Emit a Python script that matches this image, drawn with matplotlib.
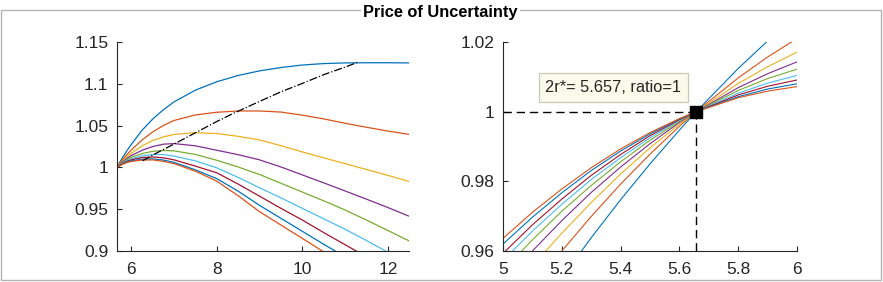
import matplotlib
matplotlib.use('Agg')
from matplotlib import pyplot as plt
from matplotlib.patches import Rectangle
from matplotlib.ticker import FuncFormatter

plt.rcParams['font.family'] = ['Liberation Sans', 'DejaVu Sans']

# sample positions (2r) shared by all curves
r2 = [5.0, 5.1, 5.2, 5.3, 5.4, 5.5, 5.6, 5.657, 5.8, 5.9, 6.0, 6.25, 6.5, 6.75,
      7.0, 7.5, 8.0, 8.5, 9.0, 9.5, 10.0, 10.5, 11.0, 11.5, 12.0, 12.5]

ratio_1 = [0.9274, 0.9401, 0.9522, 0.9638, 0.9747, 0.9850, 0.9947, 1.0, 1.0124, 1.0203, 1.0276, 1.0445, 1.058,
           1.069, 1.0785, 1.0925, 1.1025, 1.110, 1.1155, 1.1195, 1.1225, 1.1242, 1.125, 1.1252, 1.1252, 1.125]
ratio_2 = [0.9376, 0.9494, 0.96, 0.9699, 0.9792, 0.9878, 0.9958, 1.0, 1.0097, 1.0157, 1.021, 1.0328, 1.0425,
           1.0502, 1.0562, 1.0628, 1.066, 1.0675, 1.0675, 1.0662, 1.0625, 1.058, 1.0528, 1.048, 1.0435, 1.0395]
ratio_3 = [0.9455, 0.9557, 0.9651, 0.9739, 0.9821, 0.9896, 0.9964, 1.0, 1.0081, 1.0129, 1.0171, 1.0258, 1.0322,
           1.0365, 1.0395, 1.0415, 1.0405, 1.0372, 1.0328, 1.026, 1.0185, 1.0115, 1.0045, 0.9975, 0.9905, 0.983]
ratio_4 = [0.9506, 0.96, 0.9687, 0.9768, 0.9841, 0.9908, 0.9969, 1.0, 1.0069, 1.0109, 1.0143, 1.0205, 1.025,
           1.0278, 1.0285, 1.0258, 1.0205, 1.0152, 1.009, 1.0005, 0.991, 0.9815, 0.9718, 0.962, 0.952, 0.9415]
ratio_5 = [0.9544, 0.9632, 0.9714, 0.9788, 0.9856, 0.9918, 0.9972, 1.0, 1.0061, 1.0095, 1.0122, 1.0165, 1.0193,
           1.0203, 1.0198, 1.0155, 1.0085, 1.0005, 0.9915, 0.981, 0.9705, 0.960, 0.949, 0.937, 0.9245, 0.912]
ratio_6 = [0.9572, 0.9657, 0.9734, 0.9805, 0.9868, 0.9925, 0.9975, 1.0, 1.0053, 1.0082, 1.0104, 1.0138, 1.0155,
           1.0153, 1.0135, 1.0078, 0.9995, 0.988, 0.9755, 0.9635, 0.951, 0.9385, 0.926, 0.9125, 0.8985, 0.884]
ratio_7 = [0.9593, 0.9675, 0.9749, 0.9817, 0.9877, 0.9931, 0.9977, 1.0, 1.0048, 1.0073, 1.0091, 1.0118, 1.0125,
           1.0115, 1.009, 1.0015, 0.9935, 0.980, 0.9655, 0.951, 0.937, 0.922, 0.9075, 0.893, 0.878, 0.863]
ratio_8 = [0.962, 0.9697, 0.9767, 0.9831, 0.9887, 0.9936, 0.9979, 1.0, 1.0043, 1.0065, 1.008, 1.0098, 1.0102,
           1.0088, 1.006, 0.997, 0.9865, 0.9715, 0.9545, 0.939, 0.9235, 0.908, 0.893, 0.877, 0.861, 0.845]
ratio_9 = [0.9636, 0.9711, 0.9778, 0.9839, 0.9893, 0.994, 0.998, 1.0, 1.004, 1.0059, 1.0072, 1.0088, 1.009,
           1.0072, 1.0045, 0.9955, 0.9835, 0.966, 0.947, 0.931, 0.915, 0.899, 0.883, 0.867, 0.851, 0.835]

# locus of the maxima (dash-dot)
peak_x = [6.26, 6.6, 7.0, 7.5, 8.0, 8.4, 9.0, 9.5, 10.0, 10.5, 11.0, 11.28]
peak_y = [1.008, 1.0175, 1.028, 1.0415, 1.055, 1.065, 1.079, 1.0905, 1.1005, 1.111, 1.120, 1.1255]

r_star2 = 5.657
ratio_star = 1.0

left_xticks = [6, 8, 10, 12]
left_yticks = [0.9, 0.95, 1, 1.05, 1.1, 1.15]
right_xticks = [5, 5.2, 5.4, 5.6, 5.8, 6]
right_yticks = [0.96, 0.98, 1, 1.02]

colors = ['#0072BD', '#D95319', '#EDB120', '#7E2F8E', '#77AC30', '#4DBEEE', '#A2142F',
          '#0072BD', '#D95319']
curves = [ratio_1, ratio_2, ratio_3, ratio_4, ratio_5, ratio_6, ratio_7, ratio_8, ratio_9]

ink = '#262626'
fmt = FuncFormatter(lambda v, p: '%g' % round(v, 4))


def matlab_style(ax):
    ax.spines['top'].set_visible(False)
    ax.spines['right'].set_visible(False)
    for s in ['left', 'bottom']:
        ax.spines[s].set_color(ink)
        ax.spines[s].set_linewidth(0.8)
    ax.tick_params(direction='in', length=3.5, width=0.8, colors=ink, labelsize=12.5)
    ax.tick_params(axis='x', pad=8)
    ax.tick_params(axis='y', pad=6)
    ax.xaxis.set_major_formatter(fmt)
    ax.yaxis.set_major_formatter(fmt)


fig = plt.figure(figsize=(8.83, 2.82), dpi=100)

# panel border with the title sitting on it
fig.add_artist(Rectangle((1 / 883, 2 / 282), 880 / 883, 270 / 282, transform=fig.transFigure,
                         fill=False, ec='#b4b4b4', lw=1.0))
fig.text(0.499, 0.9557, 'Price of Uncertainty', ha='center', va='center', fontsize=11.8,
         fontweight='bold', color='black', zorder=5,
         bbox=dict(fc='white', ec='none', pad=1.5))

ax1 = fig.add_axes([0.1322, 0.1099, 0.3313, 0.7411])
for vals, c in zip(curves, colors):
    ax1.plot(r2, vals, color=c, lw=0.9)
ax1.plot(peak_x, peak_y, color='black', lw=0.9, linestyle='-.')
ax1.set_xlim(r_star2, 12.5)
ax1.set_ylim(0.9, 1.15)
ax1.set_xticks(left_xticks)
ax1.set_yticks(left_yticks)
matlab_style(ax1)

ax2 = fig.add_axes([0.5696, 0.1099, 0.3330, 0.7411])
for vals, c in zip(curves, colors):
    ax2.plot(r2, vals, color=c, lw=0.8)
ax2.plot([5, r_star2], [ratio_star, ratio_star], color='black', lw=1.0, dashes=(6, 3.5))
ax2.plot([r_star2, r_star2], [0.96, ratio_star], color='black', lw=1.0, dashes=(6, 3.5))
ax2.plot([r_star2], [ratio_star], marker='s', ms=8, color='black', clip_on=False, zorder=5)
ax2.text(5.3755, 1.00686, '2r*= %.3f, ratio=%g' % (r_star2, ratio_star), ha='center', va='center',
         fontsize=11.8, color=ink,
         bbox=dict(boxstyle='square,pad=0.42', fc='#fafaea', ec='#c8c8b8', lw=0.9))
ax2.set_xlim(5, 6)
ax2.set_ylim(0.96, 1.02)
ax2.set_xticks(right_xticks)
ax2.set_yticks(right_yticks)
matlab_style(ax2)

fig.savefig('out.png', dpi=100)
